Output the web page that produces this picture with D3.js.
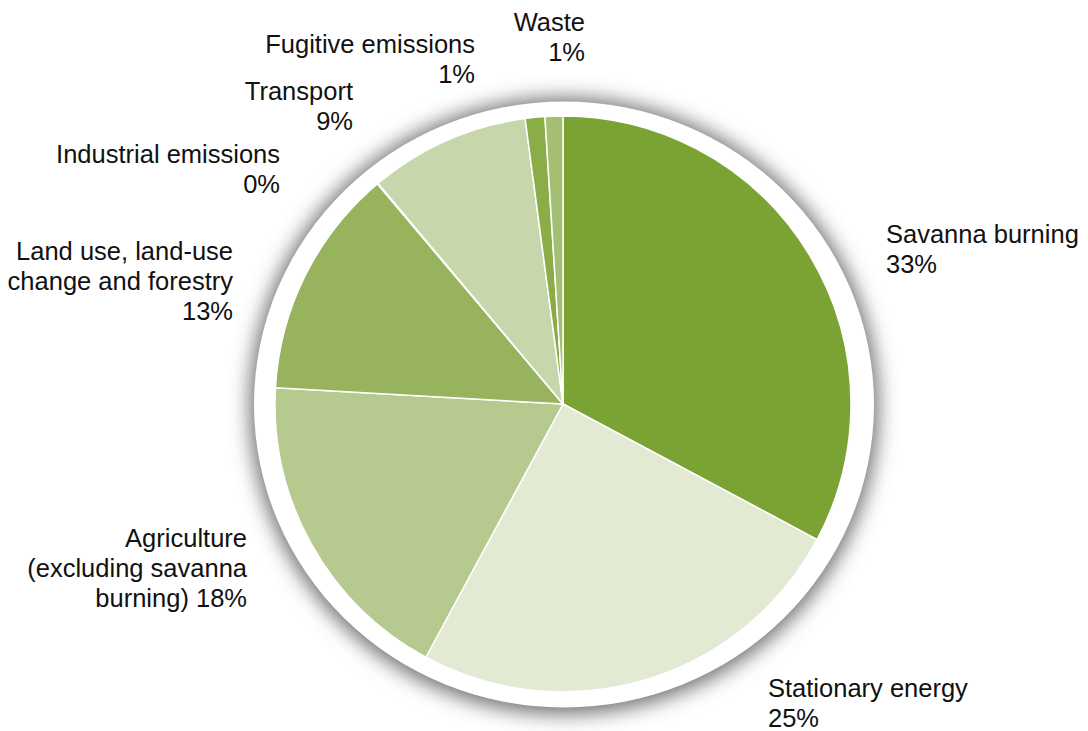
<!DOCTYPE html>
<html>
<head>
<meta charset="utf-8">
<script src="https://cdn.jsdelivr.net/npm/d3@7"></script>
<style>
  html, body { margin: 0; padding: 0; background: #fff; }
  svg { display: block; }
</style>
</head>
<body>
<svg id="chart" width="1088" height="731"></svg>
<script>
// Data
const categories = ["Savanna burning", "Stationary energy", "Agriculture (excluding savanna burning)",
  "Land use, land-use change and forestry", "Industrial emissions", "Transport", "Fugitive emissions", "Waste"];
const shares = [32.8, 25.1, 18.0, 12.95, 0.05, 9.0, 1.1, 1.0];
const labelLines = [
  ["Savanna burning", "33%"],
  ["Stationary energy", "25%"],
  ["Agriculture", "(excluding savanna", "burning) 18%"],
  ["Land use, land-use", "change and forestry", "13%"],
  ["Industrial emissions", "0%"],
  ["Transport", "9%"],
  ["Fugitive emissions", "1%"],
  ["Waste", "1%"]
];
const colors = ["#7aa333", "#e3ead4", "#b6c98e", "#97b35d", "#a9c27f", "#c8d7ab", "#8aad48", "#a3bf72"];

// Layout (label anchors: x, first baseline y, anchor)
const labelPos = [
  [886, 243, "start"],
  [768, 697, "start"],
  [247, 547, "end"],
  [233, 260, "end"],
  [280, 163, "end"],
  [353, 100, "end"],
  [475, 53, "end"],
  [585, 31, "end"]
];

const svg = d3.select("#chart");
const cx = 563, cy = 404, r = 288;

const defs = svg.append("defs");
defs.append("filter").attr("id", "shadow")
  .attr("x", "-20%").attr("y", "-20%").attr("width", "140%").attr("height", "140%")
  .append("feGaussianBlur").attr("stdDeviation", 10);

// outer ring with soft shadow
svg.append("ellipse").attr("cx", 564).attr("cy", 406).attr("rx", 314).attr("ry", 308)
  .attr("fill", "#6e6e6e").attr("filter", "url(#shadow)");
svg.append("ellipse").attr("cx", 564).attr("cy", 404.5).attr("rx", 310).attr("ry", 303)
  .attr("fill", "#ffffff");

const pie = d3.pie().sort(null).value(d => d);
const arc = d3.arc().innerRadius(0).outerRadius(r);

const g = svg.append("g").attr("transform", `translate(${cx},${cy})`);
g.selectAll("path").data(pie(shares)).join("path")
  .attr("d", arc)
  .attr("fill", (d, i) => colors[i])
  .attr("stroke", "#ffffff")
  .attr("stroke-width", 1.5)
  .attr("stroke-linejoin", "round");

// labels
const lineH = 30;
labelLines.forEach((lines, i) => {
  const [x, y, anchor] = labelPos[i];
  const t = svg.append("text").attr("x", x).attr("y", y)
    .attr("text-anchor", anchor)
    .attr("font-family", "'Liberation Sans', Arimo, Arial, sans-serif")
    .attr("font-size", 25.5)
    .attr("fill", "#111");
  lines.forEach((ln, j) => {
    t.append("tspan").attr("x", x).attr("y", y + j * lineH).text(ln);
  });
});
</script>
</body>
</html>
